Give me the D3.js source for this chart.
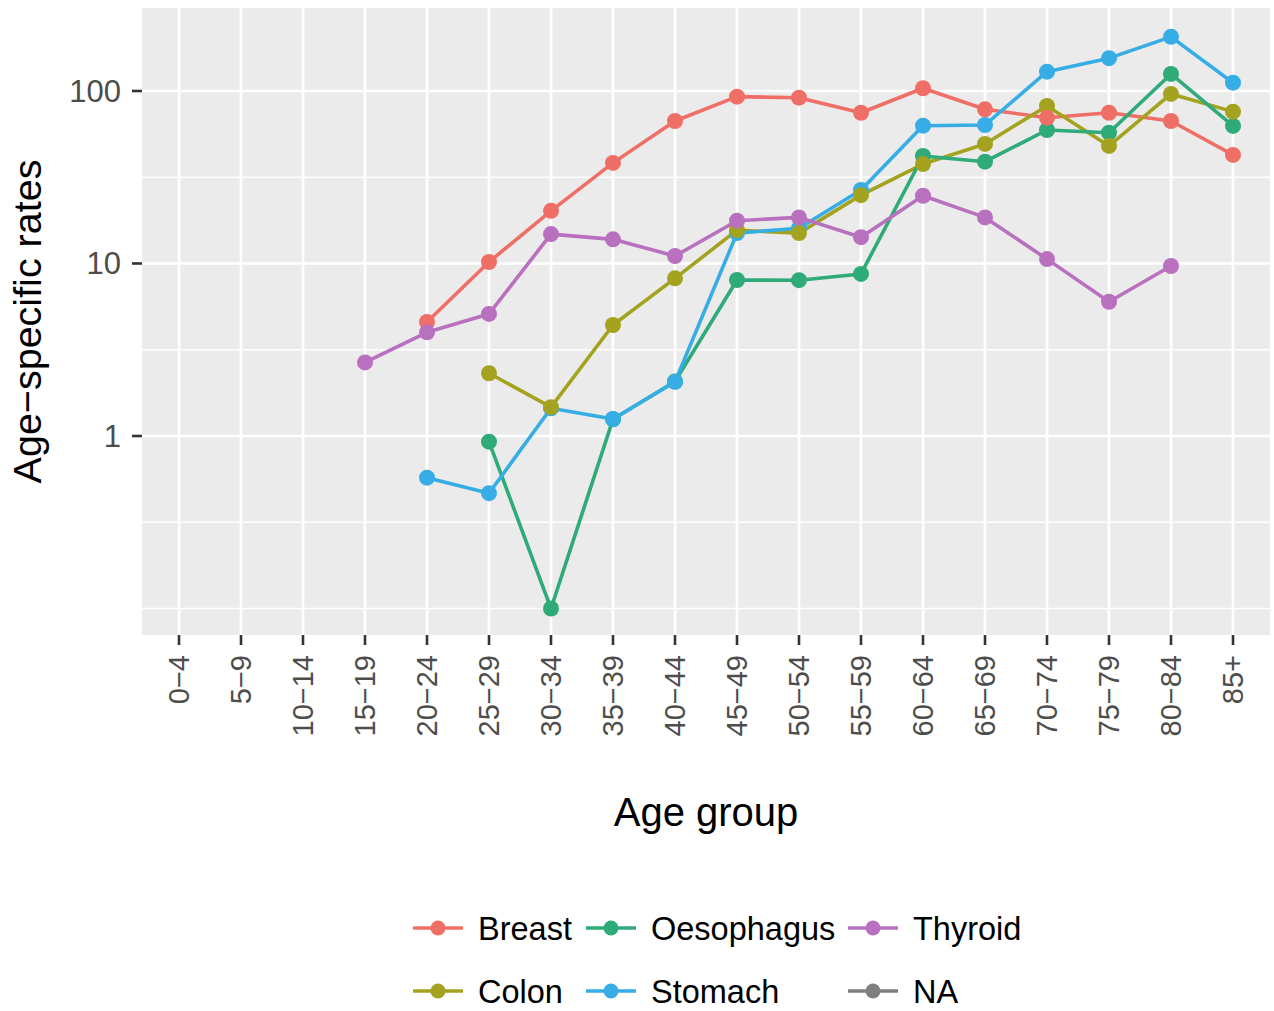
<!DOCTYPE html>
<html>
<head>
<meta charset="utf-8">
<script src="https://cdn.jsdelivr.net/npm/d3@7"></script>
<style>
  html, body { margin: 0; padding: 0; background: #ffffff; }
  svg { display: block; }
</style>
</head>
<body>
<svg id="chart" width="1274" height="1011"></svg>
<script>
// ---- data ----
const ageGroups = ["0\u22124","5\u22129","10\u221214","15\u221219","20\u221224","25\u221229","30\u221234","35\u221239","40\u221244","45\u221249","50\u221254","55\u221259","60\u221264","65\u221269","70\u221274","75\u221279","80\u221284","85+"];
const breast     = [null,null,null,null,4.58,10.2,20.2,38.3,67,92.7,91.4,74.8,103.7,78.3,70,74.8,67,42.6];
const colon      = [null,null,null,null,null,2.31,1.47,4.4,8.2,15.6,15.0,24.9,37.7,49.3,81.9,48,96.1,75.9];
const oesophagus = [null,null,null,null,null,0.927,0.1,1.25,2.07,8.02,8.0,8.7,42,38.9,59.4,57.3,125.5,62.7];
const stomach    = [null,null,null,null,0.573,0.466,1.448,1.255,2.06,15.0,16.0,26.7,62.9,63.5,129.4,155,206,111.7];
const thyroid    = [null,null,null,2.67,3.99,5.1,14.8,13.8,11.05,17.7,18.5,14.2,24.7,18.5,10.6,6.0,9.67,null];
const siteNames  = ["Breast","Colon","Oesophagus","Stomach","Thyroid","NA"];
const yTicks     = [1, 10, 100];
const yMinor     = [0.1, Math.pow(10,-0.5), Math.pow(10,0.5), Math.pow(10,1.5)];

const colors = {Breast:"#EF6F66", Colon:"#A4A31F", Oesophagus:"#2FAA79", Stomach:"#36ADE4", Thyroid:"#B870BF", NA:"#7F7F7F"};
const seriesList = [
  {name:"Breast", values:breast},
  {name:"Colon", values:colon},
  {name:"Oesophagus", values:oesophagus},
  {name:"Stomach", values:stomach},
  {name:"Thyroid", values:thyroid}
];
const pointOrder = ["Oesophagus","Stomach","Colon","Breast","Thyroid"];

// ---- layout ----
const panel = {left:142, right:1270, top:8, bottom:635};
const font = "'Liberation Sans', Arial, Helvetica, sans-serif";
const svg = d3.select("#chart");

const x = d3.scalePoint().domain(ageGroups).range([179, 1233]);
const y = d3.scaleLog()
  .domain([Math.pow(10, -1.1536), Math.pow(10, 2.481)])
  .range([panel.bottom, panel.top]);

// panel background
svg.append("rect")
  .attr("x", panel.left).attr("y", panel.top)
  .attr("width", panel.right - panel.left).attr("height", panel.bottom - panel.top)
  .attr("fill", "#EBEBEB");

// minor gridlines
svg.append("g").selectAll("line").data(yMinor).join("line")
  .attr("x1", panel.left).attr("x2", panel.right)
  .attr("y1", d => y(d)).attr("y2", d => y(d))
  .attr("stroke", "#ffffff").attr("stroke-width", 1.3);

// major gridlines
svg.append("g").selectAll("line").data(yTicks).join("line")
  .attr("x1", panel.left).attr("x2", panel.right)
  .attr("y1", d => y(d)).attr("y2", d => y(d))
  .attr("stroke", "#ffffff").attr("stroke-width", 2.6);
svg.append("g").selectAll("line").data(ageGroups).join("line")
  .attr("x1", d => x(d)).attr("x2", d => x(d))
  .attr("y1", panel.top).attr("y2", panel.bottom)
  .attr("stroke", "#ffffff").attr("stroke-width", 2.6);

// lines
const lineGen = d3.line()
  .defined(d => d.v != null)
  .x(d => x(d.age))
  .y(d => y(d.v));
seriesList.forEach(s => {
  const pts = ageGroups.map((a, i) => ({age:a, v:s.values[i]}));
  svg.append("path")
    .datum(pts)
    .attr("d", lineGen)
    .attr("fill", "none")
    .attr("stroke", colors[s.name])
    .attr("stroke-width", 3.6)
    .attr("stroke-linejoin", "round");
});

// points
pointOrder.forEach(name => {
  const s = seriesList.find(d => d.name === name);
  const pts = ageGroups.map((a, i) => ({age:a, v:s.values[i]})).filter(d => d.v != null);
  svg.append("g").selectAll("circle").data(pts).join("circle")
    .attr("cx", d => x(d.age)).attr("cy", d => y(d.v))
    .attr("r", 8)
    .attr("fill", colors[name]);
});

// y axis ticks + labels
const yAxis = svg.append("g");
yAxis.selectAll("line").data(yTicks).join("line")
  .attr("x1", panel.left - 10).attr("x2", panel.left)
  .attr("y1", d => y(d)).attr("y2", d => y(d))
  .attr("stroke", "#333333").attr("stroke-width", 2.6);
yAxis.selectAll("text").data(yTicks).join("text")
  .attr("x", panel.left - 21).attr("y", d => y(d))
  .attr("dy", "0.35em")
  .attr("text-anchor", "end")
  .attr("font-family", font).attr("font-size", 31)
  .attr("fill", "#4D4D4D")
  .text(d => d3.format("d")(d));

// x axis ticks + labels
const xAxis = svg.append("g");
xAxis.selectAll("line").data(ageGroups).join("line")
  .attr("x1", d => x(d)).attr("x2", d => x(d))
  .attr("y1", panel.bottom).attr("y2", panel.bottom + 10)
  .attr("stroke", "#333333").attr("stroke-width", 2.6);
xAxis.selectAll("text").data(ageGroups).join("text")
  .attr("transform", d => `translate(${x(d)},${panel.bottom + 20}) rotate(-90)`)
  .attr("dy", "0.35em")
  .attr("text-anchor", "end")
  .attr("font-family", font).attr("font-size", 29)
  .attr("fill", "#4D4D4D")
  .text(d => d);

// axis titles
svg.append("text")
  .attr("x", (panel.left + panel.right) / 2).attr("y", 826)
  .attr("text-anchor", "middle")
  .attr("font-family", font).attr("font-size", 40)
  .attr("fill", "#000000")
  .text("Age group");
svg.append("text")
  .attr("transform", `translate(41,${(panel.top + panel.bottom) / 2}) rotate(-90)`)
  .attr("text-anchor", "middle")
  .attr("font-family", font).attr("font-size", 39.5)
  .attr("fill", "#000000")
  .text("Age\u2212specific rates");

// legend (3 columns, 2 rows, filled by column)
const legCols = [413, 586, 848];
const legRows = [928, 991];
const legend = svg.append("g");
siteNames.forEach((name, i) => {
  const col = Math.floor(i / 2), row = i % 2;
  const gx = legCols[col], gy = legRows[row];
  const g = legend.append("g");
  g.append("line")
    .attr("x1", gx).attr("x2", gx + 50)
    .attr("y1", gy).attr("y2", gy)
    .attr("stroke", colors[name]).attr("stroke-width", 3.6);
  g.append("circle")
    .attr("cx", gx + 25).attr("cy", gy).attr("r", 7.5)
    .attr("fill", colors[name]);
  g.append("text")
    .attr("x", gx + 65).attr("y", gy)
    .attr("dy", "0.36em")
    .attr("font-family", font).attr("font-size", 32.5)
    .attr("fill", "#000000")
    .text(name);
});
</script>
</body>
</html>
